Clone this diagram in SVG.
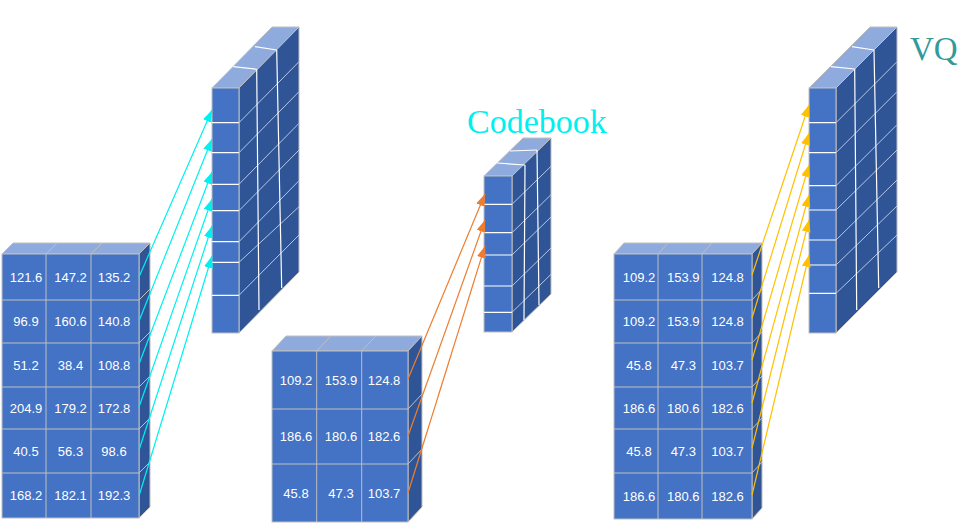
<svg xmlns="http://www.w3.org/2000/svg" width="978" height="524" viewBox="0 0 978 524">
<defs>
<style>
.front{fill:#4472C4;stroke:#BFBFBF;stroke-width:1}
.side{fill:#2F5597;stroke:#BFBFBF;stroke-width:1}
.top{fill:#8FAADC;stroke:#BFBFBF;stroke-width:1}
.grid{stroke:#BFBFBF;stroke-width:1;fill:none}
.wgrid{stroke:#FFFFFF;stroke-width:1.2;fill:none}
.sgrid{stroke:#B4C7E7;stroke-width:1;fill:none}
.num{font-family:"Liberation Sans",Arial,sans-serif;font-size:13px;fill:#FFFFFF;text-anchor:middle}
.title{font-family:"Liberation Serif","Times New Roman",serif;font-size:34px}
.cy{stroke:#00F0F0;stroke-width:1.2;fill:none}
.or{stroke:#ED7D31;stroke-width:1.2;fill:none}
.ye{stroke:#FFC000;stroke-width:1.2;fill:none}
</style>
<marker id="ahC" markerUnits="userSpaceOnUse" markerWidth="13" markerHeight="10" refX="12" refY="4.5" orient="auto"><path d="M0,0 L12,4.5 L0,9 z" fill="#00F0F0"/></marker>
<marker id="ahO" markerUnits="userSpaceOnUse" markerWidth="13" markerHeight="10" refX="12" refY="4.5" orient="auto"><path d="M0,0 L12,4.5 L0,9 z" fill="#ED7D31"/></marker>
<marker id="ahY" markerUnits="userSpaceOnUse" markerWidth="13" markerHeight="10" refX="12" refY="4.5" orient="auto"><path d="M0,0 L12,4.5 L0,9 z" fill="#FFC000"/></marker>
</defs>
<rect width="978" height="524" fill="#FFFFFF"/>

<!-- Left input matrix -->
<g id="input-matrix">
<polygon class="top" points="2,254 139,254 150,243 13,243"/>
<polygon class="side" points="139,254 150,243 150,507 139,518"/>
<rect class="front" x="2" y="254" width="137" height="264"/>
<path class="grid" d="M46,254V518M91,254V518M2,300H139M2,343H139M2,387H139M2,429H139M2,473H139"/>
<path class="grid" d="M46,254L57,243M91,254L102,243M139,300L150,289M139,343L150,332M139,387L150,376M139,429L150,418M139,473L150,462"/>
<text class="num" x="26" y="282">121.6</text><text class="num" x="70.5" y="282">147.2</text><text class="num" x="114" y="282">135.2</text>
<text class="num" x="26" y="326">96.9</text><text class="num" x="70.5" y="326">160.6</text><text class="num" x="114" y="326">140.8</text>
<text class="num" x="26" y="369.5">51.2</text><text class="num" x="70.5" y="369.5">38.4</text><text class="num" x="114" y="369.5">108.8</text>
<text class="num" x="26" y="412.5">204.9</text><text class="num" x="70.5" y="412.5">179.2</text><text class="num" x="114" y="412.5">172.8</text>
<text class="num" x="26" y="455.5">40.5</text><text class="num" x="70.5" y="455.5">56.3</text><text class="num" x="114" y="455.5">98.6</text>
<text class="num" x="26" y="500">168.2</text><text class="num" x="70.5" y="500">182.1</text><text class="num" x="114" y="500">192.3</text>
</g>

<!-- Left feature block -->
<g id="feature-block-left">
<polygon class="top" points="212,88 239,88 299,27 272,27"/>
<polygon class="side" points="239,88 299,27 299,272 239,333"/>
<rect class="front" x="212" y="88" width="27" height="245"/>
<path class="wgrid" d="M212,122.7H239M212,152.7H239M212,184.3H239M212,210.7H239M212,241.7H239M212,262.3H239M212,295.3H239"/>
<path class="sgrid" d="M239,122.7L299,61.7M239,152.7L299,91.7M239,184.3L299,123.3M239,210.7L299,150M239,241.7L299,180.7M239,262.3L299,206.7M239,295.3L299,235"/>
<path class="wgrid" d="M256.7,69.3L259,310M276.7,50L281.7,288"/>
<path class="wgrid" d="M233.3,66.7L256.7,69.3M255,46.7L276.7,50"/>
</g>

<!-- Codebook -->
<g id="codebook">
<polygon class="top" points="484,176 512,176 551,138 523,138"/>
<polygon class="side" points="512,176 551,138 551,294 512,332"/>
<rect class="front" x="484" y="176" width="28" height="156"/>
<path class="wgrid" d="M484,204.3H512M484,232.7H512M484,255H512M484,286H512M484,312.3H512"/>
<path class="sgrid" d="M512,204.3L551,166.3M512,232.7L551,194.7M512,255L551,217M512,286L551,248M512,312.3L551,274.3"/>
<path class="wgrid" d="M525,165L524,320M537,150L539,305"/>
<path class="wgrid" d="M497,163L525,165M510,151L537,150"/>
<text class="title" x="467" y="133" fill="#00F0F0">Codebook</text>
</g>

<!-- Middle matrix -->
<g id="codebook-matrix">
<polygon class="top" points="272,351 408,351 422,336 286,336"/>
<polygon class="side" points="408,351 422,336 422,507 408,522"/>
<rect class="front" x="272" y="351" width="136" height="171"/>
<path class="grid" d="M316.7,351V522M361.7,351V522M272,409H408M272,464H408"/>
<path class="grid" d="M316.7,351L330.7,336M361.7,351L375.7,336M408,409L422,394M408,464L422,449"/>
<text class="num" x="296" y="385">109.2</text><text class="num" x="341" y="385">153.9</text><text class="num" x="384" y="385">124.8</text>
<text class="num" x="296" y="441">186.6</text><text class="num" x="341" y="441">180.6</text><text class="num" x="384" y="441">182.6</text>
<text class="num" x="296" y="497.5">45.8</text><text class="num" x="341" y="497.5">47.3</text><text class="num" x="384" y="497.5">103.7</text>
</g>

<!-- Right quantized matrix -->
<g id="quantized-matrix">
<polygon class="top" points="614,254 752,254 762,243 624,243"/>
<polygon class="side" points="752,254 762,243 762,508 752,519"/>
<rect class="front" x="614" y="254" width="138" height="265"/>
<path class="grid" d="M658,254V519M702,254V519M614,300H752M614,343H752M614,387H752M614,429H752M614,473H752"/>
<path class="grid" d="M658,254L668,243M702,254L712,243M752,300L762,289M752,343L762,332M752,387L762,376M752,429L762,418M752,473L762,462"/>
<text class="num" x="639" y="282">109.2</text><text class="num" x="683.3" y="282">153.9</text><text class="num" x="727.5" y="282">124.8</text>
<text class="num" x="639" y="326">109.2</text><text class="num" x="683.3" y="326">153.9</text><text class="num" x="727.5" y="326">124.8</text>
<text class="num" x="639" y="369.5">45.8</text><text class="num" x="683.3" y="369.5">47.3</text><text class="num" x="727.5" y="369.5">103.7</text>
<text class="num" x="639" y="412.5">186.6</text><text class="num" x="683.3" y="412.5">180.6</text><text class="num" x="727.5" y="412.5">182.6</text>
<text class="num" x="639" y="455.5">45.8</text><text class="num" x="683.3" y="455.5">47.3</text><text class="num" x="727.5" y="455.5">103.7</text>
<text class="num" x="639" y="500.5">186.6</text><text class="num" x="683.3" y="500.5">180.6</text><text class="num" x="727.5" y="500.5">182.6</text>
</g>

<!-- Right VQ feature block -->
<g id="feature-block-vq">
<polygon class="top" points="809,88 836,88 897,27 870,27"/>
<polygon class="side" points="836,88 897,27 897,272 836,333"/>
<rect class="front" x="809" y="88" width="27" height="245"/>
<path class="wgrid" d="M809,122.7H836M809,152.7H836M809,185.7H836M809,210H836M809,240H836M809,265H836M809,293.3H836"/>
<path class="sgrid" d="M836,122.7L897,61.7M836,152.7L897,91.7M836,185.7L897,124.7M836,210L897,150M836,240L897,180M836,265L897,206M836,293.3L897,235"/>
<path class="wgrid" d="M854.7,69L856.7,310M874,50L878.7,288"/>
<path class="wgrid" d="M831,66.7L854.7,69M852,46.7L874,50"/>
<text class="title" x="910" y="60" fill="#339999" style="font-size:33px">VQ</text>
</g>

<!-- Connectors -->
<g id="connectors">
<line class="cy" x1="139" y1="277" x2="212" y2="110" marker-end="url(#ahC)"/>
<line class="cy" x1="139" y1="321" x2="212" y2="139" marker-end="url(#ahC)"/>
<line class="cy" x1="139" y1="364" x2="212" y2="172" marker-end="url(#ahC)"/>
<line class="cy" x1="139" y1="407" x2="212" y2="199" marker-end="url(#ahC)"/>
<line class="cy" x1="139" y1="450" x2="212" y2="226" marker-end="url(#ahC)"/>
<line class="cy" x1="139" y1="496" x2="212" y2="256" marker-end="url(#ahC)"/>
<line class="or" x1="408" y1="379" x2="485" y2="194" marker-end="url(#ahO)"/>
<line class="or" x1="408" y1="436" x2="485" y2="220" marker-end="url(#ahO)"/>
<line class="or" x1="408" y1="493" x2="485" y2="246" marker-end="url(#ahO)"/>
<line class="ye" x1="752" y1="275" x2="809" y2="105" marker-end="url(#ahY)"/>
<line class="ye" x1="752" y1="318" x2="809" y2="133" marker-end="url(#ahY)"/>
<line class="ye" x1="752" y1="360" x2="809" y2="165" marker-end="url(#ahY)"/>
<line class="ye" x1="752" y1="403" x2="809" y2="195" marker-end="url(#ahY)"/>
<line class="ye" x1="752" y1="448" x2="809" y2="220" marker-end="url(#ahY)"/>
<line class="ye" x1="752" y1="495" x2="809" y2="255" marker-end="url(#ahY)"/>
</g>
</svg>
